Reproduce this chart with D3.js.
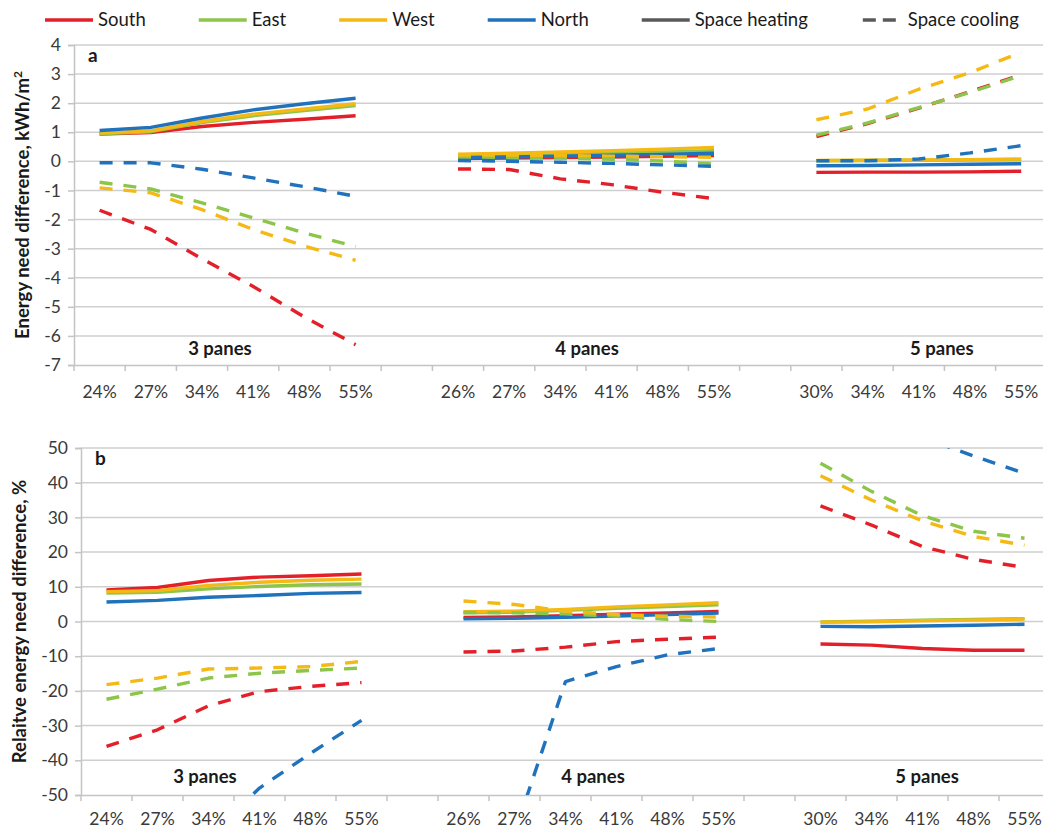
<!DOCTYPE html>
<html>
<head>
<meta charset="utf-8">
<script src="https://cdn.jsdelivr.net/npm/d3@7"></script>
<style>
  body { margin: 0; background: #fff; }
  text { font-family: Lato, "Open Sans", sans-serif; }
</style>
</head>
<body>
<svg id="chart" width="1043" height="831"></svg>
<script>
// category labels (glazing ratio) per pane group
const cats3 = ["24%", "27%", "34%", "41%", "48%", "55%"];
const cats4 = ["26%", "27%", "34%", "41%", "48%", "55%"];
const cats5 = ["30%", "34%", "41%", "48%", "55%"];
const groupNames = ["3 panes", "4 panes", "5 panes"];

const orientations = ["South", "East", "West", "North"];
const colors = ["#e3202a", "#8dc54b", "#f5b915", "#1f72bb"];

// panel a: energy need difference, kWh/m2  (3 panes | 4 panes | 5 panes)
const absHeatSouth = [0.94, 0.99, 1.2, 1.34, 1.45, 1.57, 0.1, 0.11, 0.13, 0.15, 0.17, 0.2, -0.38, -0.37, -0.37, -0.36, -0.34];
const absHeatEast = [0.95, 1.02, 1.33, 1.57, 1.75, 1.92, 0.18, 0.2, 0.24, 0.28, 0.32, 0.37, 0.02, 0.03, 0.04, 0.05, 0.06];
const absHeatWest = [0.97, 1.05, 1.37, 1.62, 1.8, 1.98, 0.25, 0.28, 0.32, 0.37, 0.42, 0.48, 0.03, 0.04, 0.05, 0.06, 0.08];
const absHeatNorth = [1.06, 1.17, 1.49, 1.77, 1.98, 2.17, 0.13, 0.15, 0.18, 0.21, 0.24, 0.28, -0.15, -0.14, -0.12, -0.1, -0.08];
const absCoolSouth = [-1.68, -2.34, -3.35, -4.3, -5.35, -6.3, -0.26, -0.28, -0.6, -0.8, -1.06, -1.28, 0.85, 1.3, 1.83, 2.4, 2.97];
const absCoolEast = [-0.72, -0.95, -1.43, -1.94, -2.46, -2.93, 0.15, 0.14, 0.11, 0.07, 0.01, -0.08, 0.9, 1.32, 1.85, 2.37, 2.95];
const absCoolWest = [-0.91, -1.08, -1.66, -2.34, -2.91, -3.4, 0.22, 0.22, 0.2, 0.18, 0.16, 0.14, 1.43, 1.8, 2.48, 3.05, 3.75];
const absCoolNorth = [-0.05, -0.05, -0.27, -0.57, -0.87, -1.2, 0.03, 0.0, -0.03, -0.07, -0.12, -0.17, 0.02, 0.02, 0.08, 0.29, 0.54];

// panel b: relative energy need difference, %
const relHeatSouth = [9.1, 9.8, 11.8, 12.8, 13.2, 13.7, 1.2, 1.3, 1.7, 2.1, 2.5, 2.9, -6.5, -6.8, -7.8, -8.3, -8.3];
const relHeatEast = [8.2, 8.4, 9.4, 10.1, 10.6, 10.8, 2.5, 2.7, 3.2, 3.8, 4.3, 4.8, -0.1, 0.1, 0.4, 0.6, 0.8];
const relHeatWest = [8.6, 8.9, 10.4, 11.3, 11.9, 12.2, 2.8, 3.0, 3.5, 4.2, 4.8, 5.4, -0.2, -0.1, 0.2, 0.4, 0.7];
const relHeatNorth = [5.6, 6.1, 7.0, 7.5, 8.1, 8.35, 0.8, 0.9, 1.2, 1.6, 2.0, 2.4, -1.4, -1.5, -1.3, -1.1, -0.8];
const relCoolSouth = [-36, -31.2, -24.3, -20.2, -18.7, -17.6, -8.8, -8.5, -7.4, -5.8, -5.1, -4.5, 33.3, 27.8, 21.6, 17.9, 15.6];
const relCoolEast = [-22.4, -19.5, -16.3, -14.9, -14.1, -13.4, 2.6, 2.5, 2.2, 1.5, 0.6, 0.0, 45.6, 37.5, 30.5, 26, 24];
const relCoolWest = [-18.2, -16.3, -13.7, -13.4, -13, -11.5, 5.9, 4.9, 3.0, 2.0, 1.5, 1.3, 42, 35, 29, 24.5, 22];
const relCoolNorth = [-85, -75, -62, -48, -38, -28.5, -70, -61, -17.3, -13, -9.6, -7.8, 75, 62, 53, 47.7, 42.7];

const svg = d3.select("#chart");
const dash = "13,11";

// x slots: each group of categories, with one empty slot between groups
const groups = [cats3, cats4, cats5];
const slots = [];
const slotLabel = {};
groups.forEach(function (cats, gi) {
    if (gi > 0) { slots.push("gap" + gi); slotLabel["gap" + gi] = ""; }
    cats.forEach(function (c) { const k = gi + "|" + c; slots.push(k); slotLabel[k] = c; });
});

function drawPanel(cfg) {
    const x = d3.scaleBand()
        .domain(slots)
        .range([cfg.left, cfg.left + slots.length * cfg.step]);
    const y = d3.scaleLinear()
        .domain(cfg.domain)
        .range([cfg.bottom, cfg.top]);
    const right = x.range()[1];
    const g = svg.append("g");

    // gridlines
    g.selectAll(".grid")
        .data(cfg.ticks.filter(function (t) { return t !== cfg.domain[0]; }))
        .join("line")
        .attr("x1", cfg.left).attr("x2", right)
        .attr("y1", function (d) { return y(d); }).attr("y2", function (d) { return y(d); })
        .attr("stroke", "#cfcfcf").attr("stroke-width", 1.5);

    // y axis
    const yAxis = g.append("g")
        .attr("transform", `translate(${cfg.left},0)`)
        .call(d3.axisLeft(y).tickValues(cfg.ticks).tickSize(6).tickPadding(7)
            .tickFormat(function (d) { return String(d); }));
    yAxis.select(".domain").attr("stroke", "#c4c4c4").attr("stroke-width", 1.5);
    yAxis.selectAll(".tick line").attr("stroke", "#c4c4c4").attr("stroke-width", 1.5);
    yAxis.selectAll("text").attr("font-size", 17.5).attr("fill", "#3a3a3a")
        .style("font-family", "Lato, 'Open Sans', sans-serif");

    // x axis
    const xAxis = g.append("g")
        .attr("transform", `translate(0,${cfg.bottom})`)
        .call(d3.axisBottom(x).tickSize(0).tickPadding(cfg.xPad)
            .tickFormat(function (d) { return slotLabel[d]; }));
    xAxis.select(".domain").attr("stroke", "#c4c4c4").attr("stroke-width", 1.5);
    xAxis.selectAll("text").attr("font-size", 17.5).attr("fill", "#3a3a3a")
        .style("font-family", "Lato, 'Open Sans', sans-serif");
    g.selectAll(".xtick")
        .data(slots.concat(["end"]))
        .join("line")
        .attr("x1", function (d) { return d === "end" ? right : x(d); })
        .attr("x2", function (d) { return d === "end" ? right : x(d); })
        .attr("y1", cfg.bottom).attr("y2", cfg.bottom + 6)
        .attr("stroke", "#c4c4c4").attr("stroke-width", 1.5);

    // lines
    const clipId = "clip-" + cfg.name;
    svg.append("clipPath").attr("id", clipId)
        .append("rect")
        .attr("x", cfg.left).attr("y", cfg.top)
        .attr("width", right - cfg.left).attr("height", cfg.bottom - cfg.top);
    const line = d3.line()
        .x(function (d) { return x(d.slot) + x.bandwidth() / 2; })
        .y(function (d) { return y(d.v); });
    const lineG = g.append("g").attr("clip-path", `url(#${clipId})`);

    const series = [];
    cfg.heating.forEach(function (vals, i) { series.push({ vals: vals, color: colors[i], dashed: false }); });
    cfg.cooling.forEach(function (vals, i) { series.push({ vals: vals, color: colors[i], dashed: true }); });
    series.forEach(function (s) {
        let offset = 0;
        groups.forEach(function (cats, gi) {
            const pts = cats.map(function (c, j) { return { slot: gi + "|" + c, v: s.vals[offset + j] }; });
            offset += cats.length;
            lineG.append("path")
                .datum(pts)
                .attr("d", line)
                .attr("fill", "none")
                .attr("stroke", s.color)
                .attr("stroke-width", 3.4)
                .attr("stroke-linejoin", "round")
                .attr("stroke-dasharray", s.dashed ? dash : null);
        });
    });

    // pane labels
    g.selectAll(".pane")
        .data(groupNames)
        .join("text")
        .attr("x", function (d, i) { return cfg.left + cfg.paneAt[i] * cfg.step; })
        .attr("y", cfg.bottom - cfg.paneLift)
        .attr("text-anchor", "middle")
        .attr("font-size", 18.5).attr("font-weight", "bold").attr("fill", "#1a1a1a")
        .text(function (d) { return d; });

    // panel letter
    g.append("text")
        .attr("x", cfg.left + 14).attr("y", cfg.top + 17)
        .attr("font-size", 19).attr("font-weight", "bold").attr("fill", "#1a1a1a")
        .text(cfg.name);

    // y title
    g.append("text")
        .attr("transform", `translate(${cfg.titleX},${(cfg.top + cfg.bottom) / 2}) rotate(-90)`)
        .attr("text-anchor", "middle")
        .attr("font-size", 18.5).attr("font-weight", "bold").attr("fill", "#1a1a1a")
        .call(cfg.title);
}

drawPanel({
    name: "a", left: 74, step: 51.2, top: 45, bottom: 365,
    domain: [-7, 4], ticks: d3.range(-7, 5, 1), xPad: 21,
    heating: [absHeatSouth, absHeatEast, absHeatWest, absHeatNorth],
    cooling: [absCoolSouth, absCoolEast, absCoolWest, absCoolNorth],
    paneAt: [2.85, 10.02, 16.95], paneLift: 10, titleX: 29,
    title: function (t) {
        t.append("tspan").text("Energy need difference, kWh/m");
        t.append("tspan").attr("font-size", 12).attr("dy", -7).text("2");
    }
});

drawPanel({
    name: "b", left: 81, step: 51, top: 448, bottom: 795,
    domain: [-50, 50], ticks: d3.range(-50, 60, 10), xPad: 18,
    heating: [relHeatSouth, relHeatEast, relHeatWest, relHeatNorth],
    cooling: [relCoolSouth, relCoolEast, relCoolWest, relCoolNorth],
    paneAt: [2.43, 10.04, 16.59], paneLift: 12, titleX: 26,
    title: function (t) { t.text("Relaitve energy need difference, %"); }
});

// legend
const legendItems = orientations.map(function (o, i) { return { label: o, color: colors[i], dashed: false }; })
    .concat([{ label: "Space heating", color: "#595959", dashed: false },
             { label: "Space cooling", color: "#595959", dashed: true }]);
let lx = 45;
const legend = svg.append("g");
legendItems.forEach(function (it) {
    legend.append("line")
        .attr("x1", it.dashed ? lx + 2 : lx).attr("x2", lx + (it.dashed ? 36 : 48))
        .attr("y1", 20).attr("y2", 20)
        .attr("stroke", it.color).attr("stroke-width", 3.4)
        .attr("stroke-dasharray", it.dashed ? "13,7" : null);
    const t = legend.append("text")
        .attr("x", lx + (it.dashed ? 47 : 53)).attr("y", 26)
        .attr("font-size", 18.5).attr("fill", "#1a1a1a")
        .text(it.label);
    lx += (it.dashed ? 47 : 53) + t.node().getComputedTextLength() + 53;
});
</script>
</body>
</html>
